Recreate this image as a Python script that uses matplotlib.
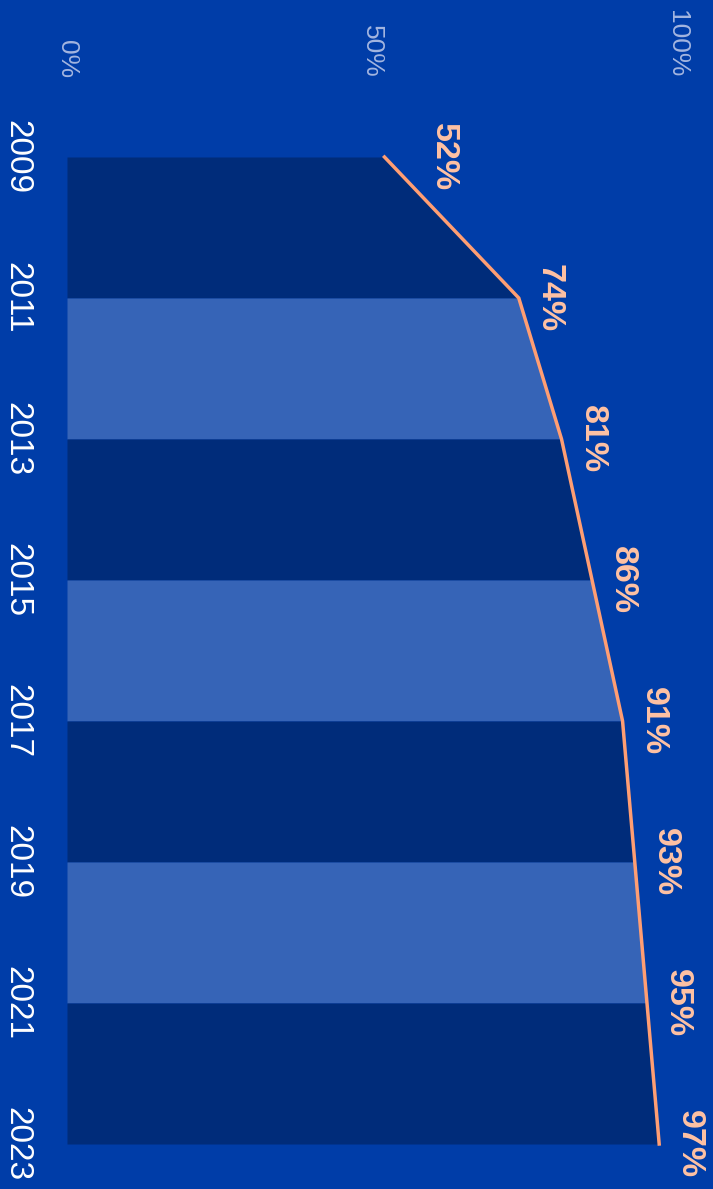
import matplotlib
matplotlib.use("Agg")
import matplotlib.pyplot as plt

plt.rcParams['font.family'] = ['Liberation Sans', 'DejaVu Sans']

years = [2009, 2011, 2013, 2015, 2017, 2019, 2021, 2023]
share = [52, 74, 81, 86, 91, 93, 95, 97]
pct_ticks = [0, 50, 100]
pct_labels = ["0%", "50%", "100%"]

bg = "#003DA8"
dark = "#002C7A"
light = "#3664B7"
line_col = "#FF9E73"
label_col = "#FFC2A3"

fig = plt.figure(figsize=(7.13, 11.89), dpi=100, facecolor=bg)
ax = fig.add_axes([67 / 713, 1 - 1144 / 1189, 610.5 / 713, 987 / 1189])
ax.set_facecolor(bg)

# alternating bands under the line
for i in range(len(years) - 1):
    ax.fill_betweenx(years[i:i + 2], 0, share[i:i + 2],
                     color=dark if i % 2 == 0 else light, lw=0)

ax.plot(share, years, color=line_col, lw=2.5, solid_joinstyle="miter",
        clip_on=False, zorder=3)

for i, (v, y) in enumerate(zip(share, years)):
    off = 42.5 if i == 0 else 22
    ax.annotate(f"{v}%", (v, y), xytext=(off, 0), textcoords="offset points",
                ha="center", va="center", rotation=-90, color=label_col,
                fontsize=24.5, fontweight="bold", annotation_clip=False)

ax.set_xlim(0, 100)
ax.set_ylim(2023, 2009)
for s in ax.spines.values():
    s.set_visible(False)

ax.xaxis.tick_top()
ax.set_xticks(pct_ticks, pct_labels)
ax.tick_params(axis="x", length=0, pad=57, labelsize=19, labelcolor="#A3B5E0",
               labelrotation=-90)
ax.set_yticks(years, [str(y) for y in years])
ax.tick_params(axis="y", length=0, pad=25, labelsize=24, labelcolor="white",
               labelrotation=-90)
for t in ax.get_yticklabels():
    t.set_va("center")

fig.savefig("out.png", dpi=100, facecolor=bg)
